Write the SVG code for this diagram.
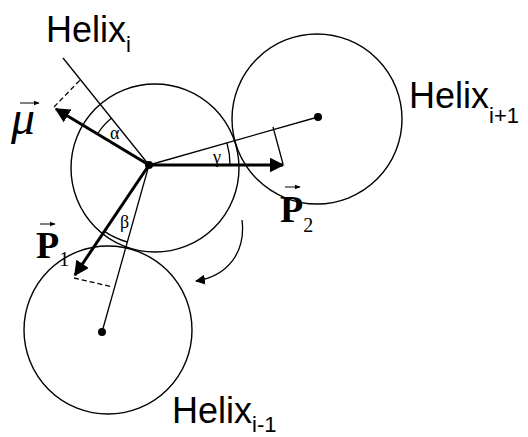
<svg xmlns="http://www.w3.org/2000/svg" width="528" height="437" viewBox="0 0 528 437">
<defs>
<marker id="ah" viewBox="0 0 10 10" refX="9" refY="5" markerWidth="5" markerHeight="5" orient="auto" markerUnits="strokeWidth">
<path d="M0,0 L10,5 L0,10 z" fill="#000"/>
</marker>
<marker id="ahs" viewBox="0 0 10 10" refX="9" refY="5" markerWidth="10" markerHeight="10" orient="auto" markerUnits="userSpaceOnUse">
<path d="M0,0 L10,5 L0,10 z" fill="#000"/>
</marker>
<marker id="ahv" viewBox="0 0 10 10" refX="9" refY="5" markerWidth="6" markerHeight="6" orient="auto" markerUnits="userSpaceOnUse">
<path d="M0,1 L10,5 L0,9 z" fill="#000"/>
</marker>
</defs>
<style>
.circ{fill:none;stroke:#000;stroke-width:1.4}
.thin{fill:none;stroke:#000;stroke-width:1.3}
.dash{fill:none;stroke:#000;stroke-width:1.3;stroke-dasharray:5,3}
.thick{fill:none;stroke:#000;stroke-width:3;marker-end:url(#ah)}
.vec{fill:none;stroke:#000;stroke-width:1;marker-end:url(#ahv)}
.dot{fill:#000}
.lbl{font-family:"Liberation Sans",Arial,sans-serif;font-size:36px;fill:#000}
.sub{font-size:22px}
.greek{font-family:"Liberation Serif","Times New Roman",serif;font-size:18px;fill:#000}
.vname{font-family:"Liberation Serif","Times New Roman",serif;font-weight:bold;font-size:38px;fill:#000}
.vsub{font-weight:normal;font-size:20px}
</style>
<g id="helix-i">
<circle class="circ" cx="155" cy="168" r="84"/>
<circle class="dot" cx="149" cy="165" r="4"/>
<text class="lbl" x="46" y="42">Helix<tspan class="sub" dy="10">i</tspan></text>
</g>
<g id="helix-i1">
<circle class="circ" cx="317" cy="119" r="85"/>
<circle class="dot" cx="318" cy="117" r="4"/>
<text class="lbl" x="409" y="108">Helix<tspan class="sub" dy="15">i+1</tspan></text>
</g>
<g id="helix-im1">
<circle class="circ" cx="108" cy="330" r="84"/>
<circle class="dot" cx="102" cy="332" r="4"/>
<text class="lbl" x="172" y="423">Helix<tspan class="sub" dy="9">i-1</tspan></text>
</g>
<g id="connectors">
<line class="thin" x1="63" y1="58" x2="149" y2="165"/>
<line class="thin" x1="149" y1="165" x2="318" y2="117"/>
<line class="thin" x1="149" y1="165" x2="102" y2="332"/>
<line class="dash" x1="54" y1="107" x2="81" y2="79"/>
<line class="dash" x1="74" y1="278" x2="113" y2="287"/>
<line class="thin" x1="283" y1="164" x2="273" y2="127"/>
<line class="thick" x1="149" y1="165" x2="56" y2="109"/>
<line class="thick" x1="149" y1="165" x2="283" y2="165"/>
<line class="thick" x1="149" y1="165" x2="75" y2="275"/>
<path class="thin" d="M97.6,134 A60,60 0 0 1 111.4,118.3"/>
<path class="thin" d="M104.4,231.4 A80,80 0 0 0 127.3,242"/>
<path class="thin" d="M230,165 A81,81 0 0 0 226.9,142.8"/>
<path class="thin" d="M242,220 C246,252 228,276 196,281" marker-end="url(#ahs)"/>
</g>
<g id="labels">
<text class="greek" x="110" y="139">α</text>
<text class="greek" x="120" y="228">β</text>
<text class="greek" x="213" y="163">γ</text>
<g id="mu">
<text x="11" y="134" style="font-family:'Liberation Serif','Times New Roman',serif;font-style:italic;font-size:48px">μ</text>
<line class="vec" x1="20" y1="103" x2="39" y2="103"/>
</g>
<g id="p1">
<text class="vname" x="36" y="258">P<tspan class="vsub" font-size="15" dy="8">1</tspan></text>
<line class="vec" x1="40" y1="224" x2="55" y2="224"/>
</g>
<g id="p2">
<text class="vname" x="280" y="222">P<tspan class="vsub" dy="10">2</tspan></text>
<line class="vec" x1="285" y1="187" x2="300" y2="187"/>
</g>
</g>
</svg>
